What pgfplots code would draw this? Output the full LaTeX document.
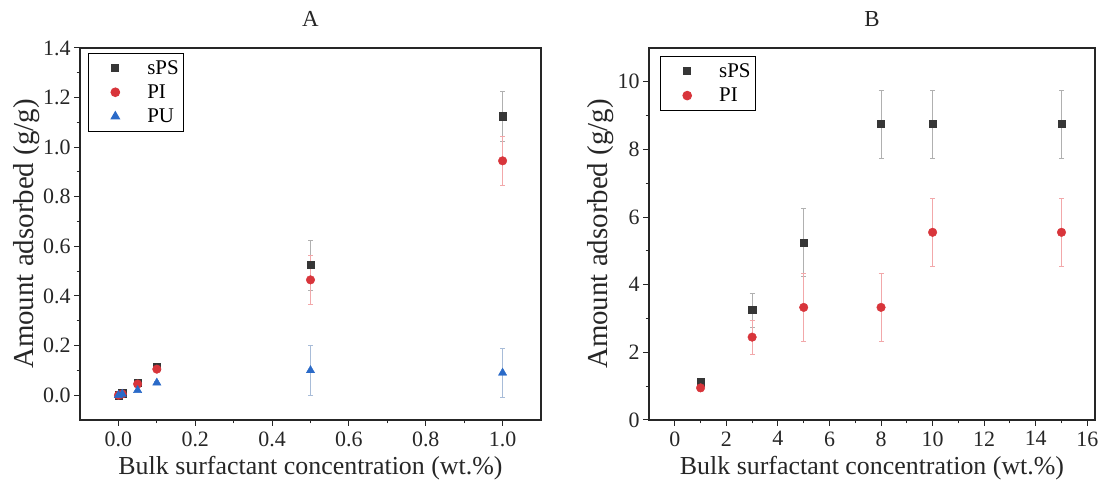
\documentclass[border=0pt]{standalone}
\usepackage{pgfplots}
\pgfplotsset{compat=1.18}
\usepackage{fontspec}
\setmainfont{Liberation Serif}
\definecolor{cS}{HTML}{363636}
\definecolor{cP}{HTML}{D8353B}
\definecolor{cU}{HTML}{2A6AC8}
\definecolor{eS}{HTML}{B0B0B0}
\definecolor{eP}{HTML}{F2A8AA}
\definecolor{eU}{HTML}{A8BCD8}
\pgfplotsset{
  mylegimg/.style={legend image code/.code={\path[draw=none, fill=none] (0bp,-5bp) rectangle (30bp,5bp); \path[##1, draw=none] plot[only marks] coordinates {(24bp,0bp)};}},
  myax/.style={
    scale only axis, height=372bp,
    axis line style={line width=1.2pt, black!85},
    tick align=outside, xtick pos=lower, ytick pos=left,
    major tick length=6bp, minor tick length=3.5bp,
    every tick/.style={line width=1pt, black!85},
    minor x tick num=1, minor y tick num=1,
    /pgf/number format/assume math mode=true,
    tick label style={font=\fontsize{22}{25}\selectfont, black!85},
    xticklabel style={yshift=-2bp},
    xlabel style={font=\fontsize{26}{29}\selectfont, black!85, yshift=-3bp},
    ylabel style={font=\fontsize{29}{32}\selectfont, black!85, yshift=-3bp},
    title style={font=\fontsize{23}{26}\selectfont, black!85, yshift=12bp},
    legend style={font=\fontsize{21}{24}\selectfont, draw=black, line width=1pt, inner xsep=3bp, inner ysep=5bp, row sep=5bp,
      /tikz/every odd column/.append style={column sep=24bp}},
    legend cell align=left,
    error bars/y dir=both, error bars/y explicit,
    error bars/error mark options={rotate=90, mark size=2.5bp},
  },
}
\begin{document}
\begin{tikzpicture}[x=1bp,y=1bp]
\useasboundingbox (0,0) rectangle (1101,495);
\begin{axis}[myax, at={(80bp,75bp)}, anchor=south west, width=461bp,
  xmin=-0.1, xmax=1.1, ymin=-0.1, ymax=1.4,
  xtick={0,0.2,0.4,0.6,0.8,1.0}, ytick={0,0.2,0.4,0.6,0.8,1.0,1.2,1.4},
  xticklabel style={/pgf/number format/.cd, fixed, fixed zerofill, precision=1},
  yticklabel style={/pgf/number format/.cd, fixed, fixed zerofill, precision=1},
  xlabel={Bulk surfactant concentration (wt.\%)}, ylabel={Amount adsorbed (g/g)},
  title={A},
  legend style={at={(0.017,0.987)}, anchor=north west},
]
\addplot[only marks, mark=square*, mark size=3.6bp, color=cS, error bars/error bar style={eS, line width=0.8pt}, mylegimg]
 table[y error=e]{
 x y e
 0 0 0.005
 0.01 0.008 0.005
 0.05 0.05 0.005
 0.1 0.115 0.01
 0.5 0.525 0.1
 1.0 1.125 0.1
 };
\addplot[only marks, mark=*, mark size=4.3bp, color=cP, error bars/error bar style={eP, line width=0.8pt}, mylegimg]
 table[y error=e]{
 x y e
 0 0.0 0.005
 0.01 0.005 0.005
 0.05 0.045 0.005
 0.1 0.105 0.01
 0.5 0.465 0.1
 1.0 0.945 0.1
 };
\addplot[only marks, mark=triangle*, mark size=4.8bp, color=cU, error bars/error bar style={eU, line width=0.8pt}, mylegimg]
 table[y error=e]{
 x y e
 0 0.0 0.003
 0.01 0.005 0.003
 0.05 0.02 0.003
 0.1 0.05 0.005
 0.5 0.1 0.1
 1.0 0.09 0.1
 };
\legend{sPS, PI, PU}
\end{axis}
\begin{axis}[myax, at={(649bp,75bp)}, anchor=south west, width=446bp,
  xmin=-1, xmax=16.3, ymin=0, ymax=11,
  xtick={0,2,...,16}, ytick={0,2,...,10},
  xlabel={Bulk surfactant concentration (wt.\%)}, ylabel={Amount adsorbed (g/g)},
  title={B},
  legend style={at={(0.024,0.978)}, anchor=north west},
]
\addplot[only marks, mark=square*, mark size=3.6bp, color=cS, error bars/error bar style={eS, line width=0.8pt}, mylegimg]
 table[y error=e]{
 x y e
 1 1.12 0.1
 3 3.25 0.5
 5 5.25 1.0
 8 8.75 1.0
 10 8.75 1.0
 15 8.75 1.0
 };
\addplot[only marks, mark=*, mark size=4.3bp, color=cP, error bars/error bar style={eP, line width=0.8pt}, mylegimg]
 table[y error=e]{
 x y e
 1 0.95 0.1
 3 2.45 0.5
 5 3.33 1.0
 8 3.33 1.0
 10 5.55 1.0
 15 5.55 1.0
 };
\legend{sPS, PI}
\end{axis}
\end{tikzpicture}
\end{document}
